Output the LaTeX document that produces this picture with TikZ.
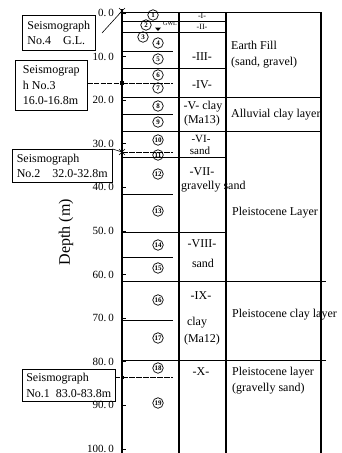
\documentclass[tikz,border=0pt]{standalone}
\usepackage{fontspec}
\setmainfont{Liberation Serif}
\usetikzlibrary{calc}
\begin{document}
\begin{tikzpicture}[x=1pt,y=-1pt,
  vline/.style={line width=1.1pt},
  hline/.style={line width=0.7pt},
  seisbox/.style={draw,line width=0.6pt,align=left,inner sep=2pt,anchor=north west,
    font=\fontsize{12}{15.5}\selectfont},
  desc/.style={anchor=west,align=left,inner sep=0pt,font=\fontsize{12}{16}\selectfont},
  rom/.style={inner sep=0pt,font=\fontsize{12}{14}\selectfont},
  romsmall/.style={inner sep=0pt,font=\fontsize{8}{9}\selectfont},
  cnum/.style={circle,draw,line width=0.7pt,inner sep=0pt,minimum size=10.5pt,
    font=\fontsize{7}{7}\selectfont\bfseries},
  ticklab/.style={anchor=east,inner sep=0pt,font=\fontsize{11}{12}\selectfont},
  conn/.style={line width=0.6pt},
  marksq/.style={fill=black,inner sep=0pt,minimum size=4pt},
]
\useasboundingbox (0,0) rectangle (341,453);

% ---- main axis and column lines ----
\draw[vline] (122,9) -- (122,453);
\draw[vline] (179,12) -- (179,453);
\draw[vline] (226,12) -- (226,453);
\draw[vline] (321,12) -- (321,453);

% ---- ticks and labels ----
\foreach \d/\t in {0/0.,10/10.,20/20.,30/30.,40/40.,50/50.,60/60.,70/70.,80/80.,90/90.,100/100.}{
  \pgfmathsetmacro{\yy}{13+4.36*\d}
  \draw[hline] (122,\yy) -- (126,\yy);
  \node[ticklab] (tick\d) at (114,\yy) {\t\hspace{2pt}0};
}

% ---- horizontal layer lines ----
\draw[hline] (122,12) -- (322,12);
\draw[hline] (122,21) -- (226,21);
\draw[hline] (122,32) -- (226,32);
\draw[hline] (122,51) -- (173,51);
\draw[hline] (122,68) -- (226,68);
\draw[hline,dashed,dash pattern=on 6pt off 1pt] (122,83) -- (173,83);
\draw[hline] (122,97) -- (322,97);
\draw[hline] (122,114) -- (173,114);
\draw[hline] (122,131) -- (322,131);
\draw[hline,dashed,dash pattern=on 6pt off 1pt] (122,152) -- (173,152);
\draw[hline] (122,157) -- (226,157);
\draw[hline] (122,194) -- (173,194);
\draw[hline] (122,232) -- (226,232);
\draw[hline] (122,257) -- (173,257);
\draw[hline] (122,281) -- (326,281);
\draw[hline] (122,320) -- (173,320);
\draw[hline] (122,360) -- (326,360);
\draw[hline,dashed,dash pattern=on 6pt off 1pt] (122,377) -- (173,377);

% ---- circled layer numbers ----
\node[cnum] (c1) at (153,15) {1};
\node[cnum] (c2) at (146,25) {2};
\node[cnum] (c3) at (143,37) {3};
\node[cnum] (c4) at (158,43) {4};
\node[cnum] (c5) at (158,59) {5};
\node[cnum] (c6) at (158,75) {6};
\node[cnum] (c7) at (158,88) {7};
\node[cnum] (c8) at (158,106) {8};
\node[cnum] (c9) at (158,122) {9};
\node[cnum] (c10) at (158,140) {10};
\node[cnum] (c11) at (158,155) {11};
\node[cnum] (c12) at (158,174) {12};
\node[cnum] (c13) at (158,211) {13};
\node[cnum] (c14) at (158,245) {14};
\node[cnum] (c15) at (158,268) {15};
\node[cnum] (c16) at (158,300) {16};
\node[cnum] (c17) at (158,338) {17};
\node[cnum] (c18) at (158,368) {18};
\node[cnum] (c19) at (158,403) {19};

% ground water level
\node[inner sep=0pt,font=\fontsize{6}{6}\selectfont] (gwl) at (170,24) {GWL};
\fill (155,27.5) -- (161,27.5) -- (158,31) -- cycle;

% ---- roman numerals / soil ----
\node[romsmall] (r1) at (202,16) {-I-};
\node[romsmall] (r2) at (202,27) {-II-};
\node[rom] (r3) at (202,57) {-III-};
\node[rom] (r4) at (202,85) {-IV-};
\node[rom] (r5) at (203,107) {-V- clay};
\node[rom] (r5b) at (202,121) {(Ma13)};
\node[rom,font=\fontsize{11}{12}\selectfont] (r6) at (201,138.5) {-VI-};
\node[rom,font=\fontsize{11}{12}\selectfont] (r6b) at (200,151) {sand};
\node[rom] (r7) at (202,172) {-VII-};
\node[desc] (r7b) at (181,187) {gravelly sand};
\node[rom] (r8) at (202,244) {-VIII-};
\node[rom] (r8b) at (203,263) {sand};
\node[rom] (r9) at (201,296) {-IX-};
\node[rom] (r9b) at (197,323) {clay};
\node[rom] (r9c) at (202,340) {(Ma12)};
\node[rom] (r10) at (201,372) {-X-};

% ---- descriptions ----
\node[desc] (d1) at (231,55) {Earth Fill\\(sand, gravel)};
\node[desc] (d2) at (231,115) {Alluvial clay layer};
\node[desc] (d3) at (232,213) {Pleistocene Layer};
\node[desc] (d4) at (232,315) {Pleistocene clay layer};
\node[desc] (d5) at (232,381) {Pleistocene layer\\(gravelly sand)};

% ---- axis title ----
\node[rotate=90,inner sep=0pt,font=\fontsize{16}{16}\selectfont] (ylab) at (66,232) {Depth (m)};

% ---- seismographs ----
\node[seisbox,minimum width=73pt,minimum height=35pt] (s4) at (22,15) {Seismograph\\No.4\quad G.L.};
\node[seisbox,minimum width=72pt,minimum height=50pt] (s3) at (15,60) {Seismograp\\h No.3\\16.0-16.8m};
\node[seisbox,minimum width=100pt,minimum height=33pt] (s2) at (12,149) {Seismograph\\No.2\quad 32.0-32.8m};
\node[seisbox,minimum width=93pt,minimum height=32pt] (s1) at (22,369) {Seismograph\\No.1\ \ 83.0-83.8m};

% markers on the axis
\coordinate (m4) at (122,11);
\node[marksq] (m3) at (122,83) {};
\coordinate (m2) at (122,152);
\node[marksq,minimum size=3pt] (m1) at (122,377) {};
\draw[conn] ($(m4)+(-3,-3)$) -- ($(m4)+(3,3)$) ($(m4)+(-3,3)$) -- ($(m4)+(3,-3)$);
\draw[conn] ($(m2)+(-3,-3)$) -- ($(m2)+(3,3)$) ($(m2)+(-3,3)$) -- ($(m2)+(3,-3)$);

% connectors
\coordinate (s4a) at (102,33);
\draw[conn] (s4a) -- (m4);
\draw[conn,dashed,dash pattern=on 5pt off 1.5pt] (s3.east |- m3) -- (m3);
\draw[conn] (s2.north east) -- (m2);
\draw[conn] (s1.east |- m1) -- (m1);
\end{tikzpicture}
\end{document}
